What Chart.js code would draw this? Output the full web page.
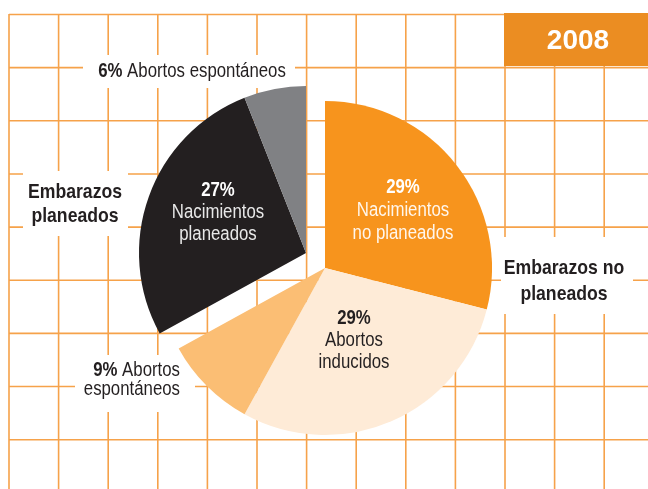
<!DOCTYPE html>
<html>
<head>
<meta charset="utf-8">
<script src="https://cdn.jsdelivr.net/npm/chart.js@4/dist/chart.umd.min.js"></script>
<style>
  html, body { margin: 0; padding: 0; background: #fff; }
  #chart { display: block; }
</style>
</head>
<body>
<canvas id="chart" width="648" height="489"></canvas>
<script>
// data
const year = '2008';
const categories = ['Nacimientos no planeados', 'Abortos inducidos', 'Abortos espontáneos', 'Nacimientos planeados', 'Abortos espontáneos'];
const shares = [29, 29, 9, 27, 6];
const groupNames = ['Embarazos planeados', 'Embarazos no planeados'];
const groupOf = [1, 1, 1, 0, 0];
const sliceColors = ['#F7941D', '#FEEBD7', '#FBBE74', '#231F20', '#808184'];

// the two groups are pulled apart
const groupShift = [[-9.5, -7.5], [9.5, 7.5]];

// no narrow font installed, so squeeze a regular one
const FONT = '"Liberation Sans", Arial, sans-serif';
const SQUEEZE = 0.84;
const gridColor = '#F6A24A';

// draw a line made of [text, bold] pieces
function drawPieces(ctx, pieces, x, y, align, size, color) {
    let widths = pieces.map(p => {
        ctx.font = (p[1] ? 'bold ' : '') + size + 'px ' + FONT;
        return ctx.measureText(p[0]).width * SQUEEZE;
    });
    let total = widths.reduce((a, b) => a + b, 0);
    let cx = align === 'center' ? x - total / 2 : (align === 'right' ? x - total : x);
    ctx.fillStyle = color;
    ctx.textAlign = 'left';
    ctx.textBaseline = 'alphabetic';
    pieces.forEach((p, i) => {
        ctx.font = (p[1] ? 'bold ' : '') + size + 'px ' + FONT;
        ctx.save();
        ctx.translate(cx, y);
        ctx.scale(SQUEEZE, 1);
        ctx.fillText(p[0], 0, 0);
        ctx.restore();
        cx += widths[i];
    });
}

const pct = i => shares[i] + '% ';

// outer labels sit on white patches over the grid
const outerLabels = [
    { box: [83, 55, 212, 33], x: 192, y: 77, step: 0, align: 'center', size: 20,
      lines: [[[pct(4), true], [categories[4], false]]] },
    { box: [23, 171, 105, 65], x: 75, y: 198, step: 24, align: 'center', size: 21,
      lines: [[['Embarazos', true]], [['planeados', true]]] },
    { box: [501, 237, 132, 77], x: 564, y: 274, step: 26, align: 'center', size: 21,
      lines: [[['Embarazos no', true]], [['planeados', true]]] },
    { box: [75, 355, 120, 57], x: 180, y: 376, step: 19, align: 'right', size: 20,
      lines: [[[pct(2), true], ['Abortos', false]], [['espontáneos', false]]] }
];

const innerLabels = [
    { x: 218, y: 196, step: 22, size: 20, colors: ['#FFFFFF', '#E8E8E8'],
      lines: [[[shares[3] + '%', true]], [['Nacimientos', false]], [['planeados', false]]] },
    { x: 403, y: 193, step: 23, size: 20, colors: ['#FFFFFF', '#FFF6EC'],
      lines: [[[shares[0] + '%', true]], [['Nacimientos', false]], [['no planeados', false]]] },
    { x: 354, y: 324, step: 22, size: 20, colors: ['#231F20', '#231F20'],
      lines: [[[shares[1] + '%', true]], [['Abortos', false]], [['inducidos', false]]] }
];

const backdrop = {
    id: 'backdrop',
    beforeDraw(chart) {
        const ctx = chart.ctx;
        ctx.save();
        ctx.fillStyle = '#fff';
        ctx.fillRect(0, 0, chart.width, chart.height);
        ctx.strokeStyle = gridColor;
        ctx.lineWidth = 1.6;
        ctx.beginPath();
        for (let k = 0; k < 13; k++) {
            let x = 9 + k * 49.6;
            ctx.moveTo(x, 14); ctx.lineTo(x, chart.height);
        }
        for (let k = 0; k < 9; k++) {
            let y = 14.5 + k * 53.15;
            ctx.moveTo(9, y); ctx.lineTo(chart.width, y);
        }
        ctx.stroke();
        // year tab
        ctx.fillStyle = '#EB8D22';
        ctx.fillRect(504, 13, 144, 53);
        ctx.fillStyle = '#fff';
        ctx.font = 'bold 28px ' + FONT;
        ctx.textAlign = 'center';
        ctx.textBaseline = 'alphabetic';
        ctx.fillText(year, 578, 49);
        ctx.restore();
    },
    beforeDatasetsDraw(chart) {
        const ctx = chart.ctx;
        ctx.save();
        ctx.fillStyle = '#fff';
        outerLabels.forEach(l => ctx.fillRect(l.box[0], l.box[1], l.box[2], l.box[3]));
        ctx.restore();
    },
    afterDatasetUpdate(chart, args) {
        args.meta.data.forEach((arc, i) => {
            const s = groupShift[groupOf[i]];
            arc.x += s[0];
            arc.y += s[1];
        });
    },
    afterDatasetsDraw(chart) {
        const ctx = chart.ctx;
        ctx.save();
        outerLabels.forEach(l => {
            l.lines.forEach((line, j) => drawPieces(ctx, line, l.x, l.y + j * l.step, l.align, l.size, '#231F20'));
        });
        innerLabels.forEach(l => {
            l.lines.forEach((line, j) => drawPieces(ctx, line, l.x, l.y + j * l.step, 'center', l.size, l.colors[j === 0 ? 0 : 1]));
        });
        ctx.restore();
    }
};

new Chart(document.getElementById('chart'), {
    type: 'pie',
    data: {
        labels: categories,
        datasets: [{
            data: shares,
            backgroundColor: sliceColors,
            borderWidth: 0,
            hoverOffset: 0
        }]
    },
    options: {
        responsive: false,
        animation: false,
        events: [],
        layout: { padding: { left: 148.5, right: 165.5, top: 93.5, bottom: 61.5 } },
        plugins: {
            legend: { display: false },
            tooltip: { enabled: false }
        }
    },
    plugins: [backdrop]
});
</script>
</body>
</html>
